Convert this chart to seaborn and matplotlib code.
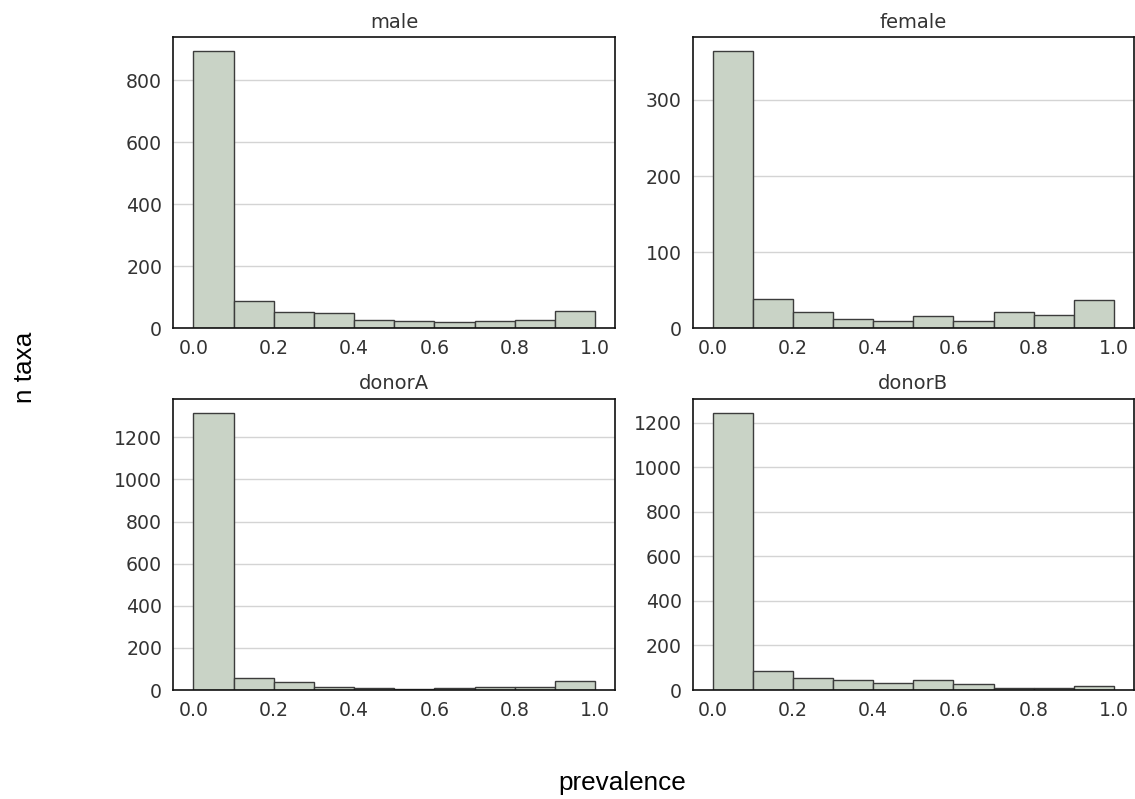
import matplotlib
matplotlib.use("Agg")
import matplotlib.pyplot as plt
import numpy as np
import pandas as pd
import seaborn as sns
from matplotlib.ticker import MultipleLocator

# Prevalence bins and number of taxa per bin for each group
bin_edges = [0.0, 0.1, 0.2, 0.3, 0.4, 0.5, 0.6, 0.7, 0.8, 0.9, 1.0]
groups = ["male", "female", "donorA", "donorB"]
male_counts = [893, 89, 54, 48, 26, 25, 19, 25, 27, 55]
female_counts = [364, 39, 22, 12, 10, 16, 9, 21, 17, 37]
donorA_counts = [1316, 58, 36, 15, 10, 6, 10, 13, 15, 45]
donorB_counts = [1245, 85, 55, 46, 31, 46, 29, 11, 8, 20]
y_steps = {"male": 200, "female": 100, "donorA": 200, "donorB": 200}

counts = {"male": male_counts, "female": female_counts,
          "donorA": donorA_counts, "donorB": donorB_counts}
mids = [(a + b) / 2 for a, b in zip(bin_edges[:-1], bin_edges[1:])]
df = pd.DataFrame(
    [(g, m, n) for g in groups for m, n in zip(mids, counts[g])],
    columns=["group", "prevalence", "n"],
)

sns.set_style("whitegrid")
plt.rcParams["font.family"] = ["DejaVu Sans"]

fig = plt.figure(figsize=(11.35, 7.99), dpi=100)
W, H = 1135, 799
rects = {
    "male": (173.3, 37.3, 615.3, 328.3),
    "female": (692.7, 37.3, 1134.0, 328.3),
    "donorA": (173.3, 399.0, 615.3, 690.0),
    "donorB": (692.7, 399.0, 1134.0, 690.0),
}

for g in groups:
    x0, y0, x1, y1 = rects[g]
    ax = fig.add_axes([x0 / W, 1 - y1 / H, (x1 - x0) / W, (y1 - y0) / H])
    sub = df[df["group"] == g]
    sns.histplot(data=sub, x="prevalence", weights="n", bins=bin_edges,
                 color="#c9d3c6", edgecolor="#3c3c3c", linewidth=1.0,
                 alpha=1.0, ax=ax)
    ax.set_xlabel("")
    ax.set_ylabel("")
    ax.set_title(g, fontsize=14, color="#333333", pad=7)
    ax.set_xticks([0.0, 0.2, 0.4, 0.6, 0.8, 1.0])
    ax.yaxis.set_major_locator(MultipleLocator(y_steps[g]))
    ax.tick_params(axis="both", length=0, pad=8, labelsize=13.6,
                   labelcolor="#333333")
    ax.xaxis.grid(False)
    ax.yaxis.grid(True, color="#d4d4d4", linewidth=1.0)
    ax.set_axisbelow(True)
    for s in ax.spines.values():
        s.set_visible(True)
        s.set_color("#111111")
        s.set_linewidth(1.2)

fig.text(622.5 / W, 1 - 790 / H, "prevalence", ha="center", va="baseline",
         fontsize=18.8, family="Liberation Sans", color="black")
fig.text(31.7 / W, 1 - 367 / H, "n taxa", ha="center", va="baseline",
         rotation=90, rotation_mode="anchor",
         fontsize=18.8, family="Liberation Sans", color="black")

fig.savefig("out.png", dpi=100, facecolor="white")
